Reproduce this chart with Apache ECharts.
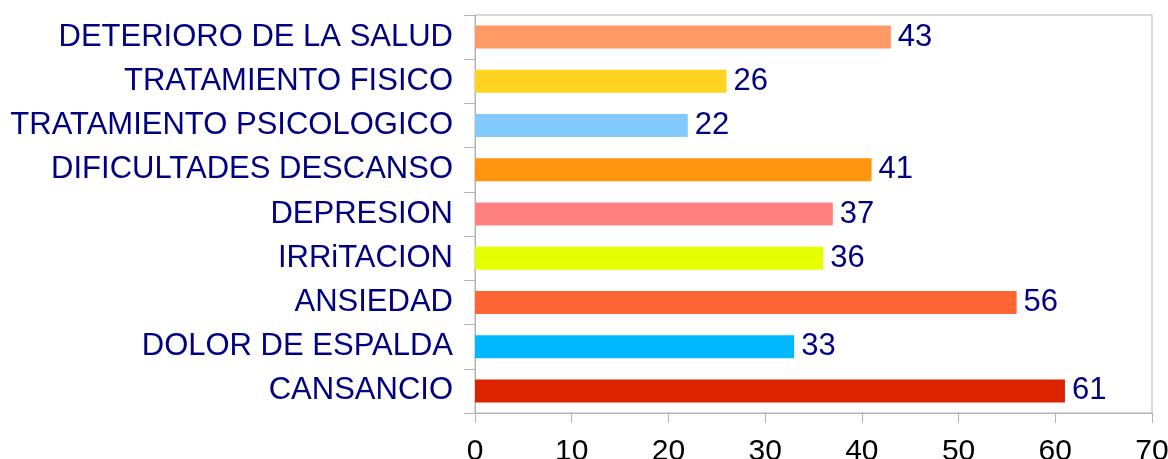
<!DOCTYPE html>
<html>
<head>
<meta charset="utf-8">
<script src="https://cdn.jsdelivr.net/npm/echarts@6/dist/echarts.min.js"></script>
<style>
html,body{margin:0;padding:0;background:#fff;}
#main{width:1168px;height:459px;}
</style>
</head>
<body>
<div id="main"></div>
<script>
var categories=['CANSANCIO','DOLOR DE ESPALDA','ANSIEDAD','IRRiTACION','DEPRESION','DIFICULTADES DESCANSO','TRATAMIENTO PSICOLOGICO','TRATAMIENTO FISICO','DETERIORO DE LA SALUD'];
var values=[61,33,56,36,37,41,22,26,43];
var colors=['#dc2300','#00b8ff','#ff6633','#e6ff00','#ff8080','#ff950e','#83caff','#ffd320','#ff9966'];

var myChart=echarts.init(document.getElementById('main'));
var res=[];
for(var i=0;i<values.length;i++){
    res.push({value:values[i],itemStyle:{color:colors[i]}});
}
myChart.setOption({
    animation:false,
    textStyle:{fontFamily:'Liberation Sans'},
    grid:{
        left:475,
        right:16,
        top:15,
        bottom:46,
        outerBoundsMode:'none',
        show:true,
        borderColor:'#b3b3b3',
        borderWidth:1
    },
    xAxis:{
        type:'value',
        min:0,
        max:70,
        interval:10,
        axisLine:{show:true,lineStyle:{color:'#b3b3b3'}},
        axisTick:{show:true,length:10,lineStyle:{color:'#b3b3b3'}},
        splitLine:{show:false},
        axisLabel:{color:'#000000',fontSize:30,margin:24,fontFamily:'Liberation Sans'}
    },
    yAxis:{
        type:'category',
        data:categories,
        axisLine:{show:true,lineStyle:{color:'#b3b3b3'}},
        axisTick:{show:true,length:11,lineStyle:{color:'#b3b3b3'}},
        axisLabel:{color:'#000080',fontSize:31,margin:22,fontFamily:'Liberation Sans'}
    },
    series:[{
        type:'bar',
        data:res,
        barWidth:23,
        label:{
            show:true,
            position:'right',
            distance:7,
            color:'#000080',
            fontSize:31,
            fontFamily:'Liberation Sans'
        }
    }]
});
</script>
</body>
</html>
